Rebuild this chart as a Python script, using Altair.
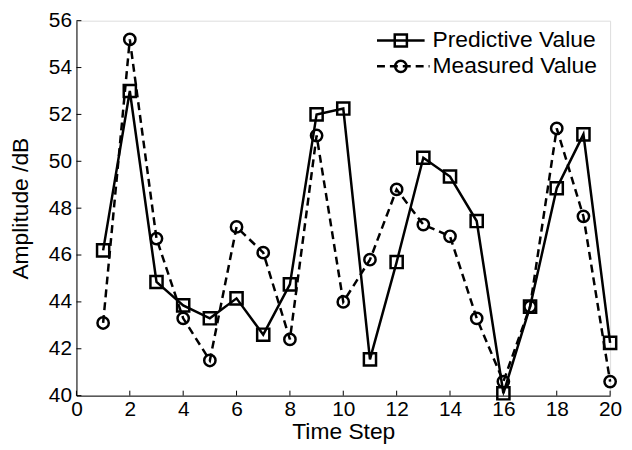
import altair as alt
import pandas as pd

steps = list(range(1, 21))
predictive = [46.2, 53.0, 44.85, 43.85, 43.3, 44.15, 42.6, 44.75, 52.0, 52.25,
              41.55, 45.7, 50.15, 49.35, 47.45, 40.1, 43.8, 48.85, 51.15, 42.25]
measured = [43.1, 55.2, 46.7, 43.3, 41.5, 47.2, 46.1, 42.4, 51.1, 44.0,
            45.8, 48.8, 47.3, 46.8, 43.3, 40.6, 43.8, 51.4, 47.65, 40.6]
x_ticks = list(range(0, 21, 2))
y_ticks = list(range(40, 57, 2))
legend_labels = ["Predictive Value", "Measured Value"]

W, H = 538, 378
FONT = "Liberation Sans"
TICK_FS, TITLE_FS, LEG_FS = 21, 23, 23

df_p = pd.DataFrame({"step": steps, "value": predictive})
df_m = pd.DataFrame({"step": steps, "value": measured})

xs = alt.Scale(domain=[0, 20], nice=False, zero=False)
ys = alt.Scale(domain=[40, 56], nice=False, zero=False)

x_axis = alt.Axis(values=x_ticks, ticks=False, tickSize=0, grid=False, domainColor="#000000",
                  domainWidth=1, labelFontSize=TICK_FS, labelFont=FONT, labelColor="#000000",
                  labelPadding=3, title="Time Step", titleFont=FONT, titleFontSize=TITLE_FS,
                  titleFontWeight="normal", titleColor="#000000", titlePadding=1,
                  labelFlush=False)
y_axis = alt.Axis(values=y_ticks, ticks=False, tickSize=0, grid=False, domainColor="#000000",
                  domainWidth=1, labelFontSize=TICK_FS, labelFont=FONT, labelColor="#000000",
                  labelPadding=5, title="Amplitude /dB", titleFont=FONT, titleFontSize=TITLE_FS,
                  titleFontWeight="normal", titleColor="#000000", titlePadding=16,
                  labelFlush=False)

X = alt.X("step:Q", scale=xs, axis=x_axis)
Y = alt.Y("value:Q", scale=ys, axis=y_axis)

line_p = alt.Chart(df_p).mark_line(color="black", strokeWidth=2.5).encode(x=X, y=Y)
pts_p = alt.Chart(df_p).mark_point(shape="square", filled=False, color="black",
                                   strokeWidth=2.5, size=150, opacity=1).encode(x=X, y=Y)
line_m = alt.Chart(df_m).mark_line(color="black", strokeWidth=2.5, strokeDash=[8, 5]).encode(x=X, y=Y)
pts_m = alt.Chart(df_m).mark_point(shape="circle", filled=False, color="black",
                                   strokeWidth=2.5, size=130, opacity=1).encode(x=X, y=Y)

# inward ticks
xt = alt.Chart(pd.DataFrame({"step": x_ticks})).mark_rule(color="black", strokeWidth=1).encode(
    x=X, y=alt.value(H), y2=alt.value(H - 5))
yt = alt.Chart(pd.DataFrame({"value": y_ticks})).mark_rule(color="black", strokeWidth=1).encode(
    y=Y, x=alt.value(0), x2=alt.value(5))

# legend
LY1, LY2 = 20, 46
one = pd.DataFrame({"a": [0]})
lg1_line = alt.Chart(one).mark_rule(color="black", strokeWidth=2.5).encode(
    x=alt.value(303), x2=alt.value(351), y=alt.value(LY1))
lg1_pt = alt.Chart(one).mark_point(shape="square", filled=False, color="black",
                                   strokeWidth=2.5, size=150, opacity=1).encode(
    x=alt.value(327), y=alt.value(LY1))
lg2_line = alt.Chart(one).mark_rule(color="black", strokeWidth=2.5, strokeDash=[8, 5]).encode(
    x=alt.value(303), x2=alt.value(356), y=alt.value(LY2))
lg2_pt = alt.Chart(one).mark_point(shape="circle", filled=False, color="black",
                                   strokeWidth=2.5, size=130, opacity=1).encode(
    x=alt.value(327), y=alt.value(LY2))
lg1_text = alt.Chart(one).mark_text(align="left", baseline="middle", font=FONT, fontSize=LEG_FS,
                                    color="black", text=legend_labels[0]).encode(
    x=alt.value(359), y=alt.value(LY1))
lg2_text = alt.Chart(one).mark_text(align="left", baseline="middle", font=FONT, fontSize=LEG_FS,
                                    color="black", text=legend_labels[1]).encode(
    x=alt.value(359), y=alt.value(LY2))

chart = alt.layer(xt, yt, line_m, line_p, pts_m, pts_p,
                  lg1_line, lg2_line, lg1_pt, lg2_pt, lg1_text, lg2_text).properties(
    width=W, height=H,
    autosize=alt.AutoSizeParams(type="none"),
    padding={"left": 69, "top": 11, "right": 14, "bottom": 50},
).configure_view(stroke=None).configure(background="white")

chart.save("out.html", embed_options={"renderer": "svg", "actions": False})
